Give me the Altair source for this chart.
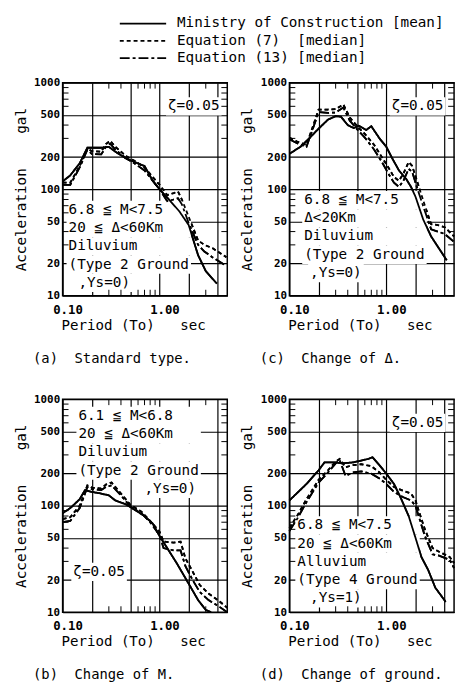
import altair as alt
import pandas as pd

SERIES = ["Ministry of Construction [mean]", "Equation (7)  [median]", "Equation (13) [median]"]
X_DOMAIN = [0.1, 5.0]
Y_DOMAIN = [10, 1000]
X_GRID = [0.1, 0.2, 0.5, 1.0, 2.0, 4.0]
Y_GRID = [10, 20, 50, 100, 200, 500, 1000]
X_MINOR = [0.3, 0.4, 0.6, 0.7, 0.8, 0.9, 3.0]
Y_MINOR = [30, 40, 60, 70, 80, 90, 300, 400, 600, 700, 800, 900]

# (a) Standard type
A_MOC_T = [0.10, 0.12, 0.15, 0.18, 0.20, 0.25, 0.30, 0.35, 0.45, 0.55, 0.70, 0.85, 1.00, 1.25, 1.60, 2.00, 2.50, 3.00, 3.90]
A_MOC_A = [118, 135, 175, 245, 245, 245, 250, 225, 195, 180, 165, 120, 100, 80, 62, 46, 24, 17, 13]
A_EQ_T = [0.10, 0.12, 0.15, 0.18, 0.20, 0.25, 0.28, 0.31, 0.35, 0.45, 0.55, 0.70, 0.85, 1.00, 1.20, 1.40, 1.55, 1.70, 2.00, 2.50, 2.90, 3.50, 4.90]
A_EQ7_A = [115, 115, 165, 240, 228, 225, 265, 285, 250, 205, 185, 160, 130, 110, 88, 92, 95, 80, 55, 33, 30, 28, 23]
A_EQ13_A = [110, 110, 160, 235, 215, 212, 250, 268, 235, 195, 175, 150, 120, 100, 77, 80, 82, 72, 48, 30, 26, 23, 19]

# (c) Change of Delta
C_MOC_T = [0.10, 0.13, 0.16, 0.20, 0.25, 0.30, 0.34, 0.40, 0.46, 0.52, 0.62, 0.70, 0.85, 1.00, 1.15, 1.35, 1.60, 1.80, 2.00, 2.40, 2.90, 4.20]
C_MOC_A = [215, 250, 300, 370, 450, 485, 480, 400, 375, 395, 360, 390, 300, 250, 195, 150, 125, 105, 85, 52, 36, 21.5]
C_EQ_T = [0.10, 0.12, 0.15, 0.18, 0.20, 0.25, 0.30, 0.36, 0.42, 0.50, 0.60, 0.75, 0.90, 1.05, 1.20, 1.35, 1.50, 1.70, 1.85, 2.10, 2.50, 2.90, 3.40, 4.00, 5.00]
C_EQ7_A = [305, 280, 260, 420, 560, 560, 565, 625, 470, 390, 330, 260, 200, 160, 130, 120, 140, 180, 165, 115, 70, 47, 46, 44, 36]
C_EQ13_A = [295, 270, 250, 400, 530, 520, 525, 585, 440, 365, 305, 235, 180, 140, 115, 105, 120, 155, 145, 100, 62, 42, 40, 38, 32]

# (b) Change of M
B_MOC_T = [0.10, 0.12, 0.15, 0.17, 0.20, 0.25, 0.30, 0.35, 0.45, 0.55, 0.70, 0.85, 1.00, 1.20, 1.50, 2.00, 2.50, 3.00, 3.40]
B_MOC_A = [85, 95, 115, 140, 135, 130, 125, 112, 103, 92, 80, 68, 52, 40, 29, 18.5, 13, 10.5, 10]
B_EQ_T = [0.10, 0.12, 0.15, 0.18, 0.20, 0.25, 0.28, 0.32, 0.40, 0.50, 0.65, 0.80, 1.00, 1.10, 1.40, 1.65, 1.85, 2.20, 2.60, 3.20, 4.00, 5.00]
B_EQ7_A = [75, 78, 100, 155, 148, 145, 158, 165, 130, 102, 88, 72, 57, 46, 45, 46, 32, 24, 18, 15, 13, 11]
B_EQ13_A = [70, 72, 95, 150, 143, 140, 150, 155, 125, 98, 85, 70, 53, 40, 38, 38, 27, 20, 15.5, 13, 11.5, 10]

# (d) Change of ground
D_MOC_T = [0.10, 0.15, 0.20, 0.23, 0.30, 0.35, 0.45, 0.55, 0.65, 0.72, 0.85, 1.00, 1.20, 1.40, 1.70, 2.00, 2.30, 2.70, 3.20, 4.10]
D_MOC_A = [112, 160, 215, 255, 255, 250, 255, 265, 275, 285, 240, 200, 160, 120, 80, 50, 33, 25, 17, 12.5]
D_EQ_T = [0.10, 0.12, 0.15, 0.20, 0.25, 0.30, 0.33, 0.38, 0.45, 0.55, 0.70, 0.85, 1.00, 1.20, 1.50, 1.80, 2.00, 2.20, 2.50, 3.00, 3.50, 4.50, 5.00]
D_EQ7_A = [62, 80, 115, 175, 215, 260, 275, 230, 240, 245, 235, 205, 175, 150, 138, 130, 112, 85, 60, 40, 37, 33, 29]
D_EQ13_A = [58, 75, 108, 165, 205, 250, 268, 190, 205, 210, 200, 180, 160, 135, 120, 112, 100, 75, 52, 35, 34, 31, 26]

NB = "\u00a0"
A_TEXT = ["6.8" + NB + "≦" + NB + "M<7.5", "20" + NB + "≦" + NB + "Δ<60Km", "Diluvium", "(Type 2 Ground", ",Ys=0)"]
C_TEXT = ["6.8" + NB + "≦" + NB + "M<7.5", "Δ<20Km", "Diluvium", "(Type 2 Ground", ",Ys=0)"]
B_TEXT = ["6.1" + NB + "≦" + NB + "M<6.8", "20" + NB + "≦" + NB + "Δ<60Km", "Diluvium", "(Type 2 Ground", ",Ys=0)"]
D_TEXT = ["6.8" + NB + "≦" + NB + "M<7.5", "20" + NB + "≦" + NB + "Δ<60Km", "Alluvium", "(Type 4 Ground", ",Ys=1)"]
ZETA = "ζ=0.05"
CAPTIONS = ["(a)" + NB * 2 + "Standard type.", "(c)" + NB * 2 + "Change of Δ.",
            "(b)" + NB * 2 + "Change of M.", "(d)" + NB * 2 + "Change of ground."]

FONT = "DejaVu Sans Mono"
FS = 14.5
CW = 0.602 * FS
LH = 18.5
W, H = 167, 216
DUMMY = pd.DataFrame({"k": [0]})

dash_scale = alt.Scale(domain=SERIES, range=[[1, 0], [4, 3], [10, 3, 3, 3]])
xscale = alt.Scale(type="log", domain=X_DOMAIN, nice=False)
yscale = alt.Scale(type="log", domain=Y_DOMAIN, nice=False)

xaxis = alt.Axis(values=X_GRID,
                 labelExpr="datum.value == 0.1 || datum.value == 1 ? format(datum.value, '.2f') : ''",
                 grid=True, gridColor="black", gridWidth=1.2, gridOpacity=1,
                 ticks=False, domain=False, labelOverlap=False, labelFlush=False,
                 labelFont=FONT, labelFontWeight="bold", labelFontSize=12.5, labelColor="black",
                 labelPadding=8, labelOffset=5,
                 title="Period (To)" + NB * 3 + "sec", titleFont=FONT, titleFontSize=14.3,
                 titleFontWeight="normal", titleColor="black", titleX=71.5, titleY=30,
                 titleBaseline="middle", titleAlign="center")
yaxis = alt.Axis(values=Y_GRID, format="d",
                 grid=True, gridColor="black", gridWidth=1.2, gridOpacity=1,
                 ticks=False, domain=False, labelOverlap=False, labelFlush=False,
                 labelFont=FONT, labelFontWeight="bold", labelFontSize=11, labelColor="black",
                 labelPadding=3,
                 title="Acceleration" + NB * 4 + "gal", titleFont=FONT, titleFontSize=14.5,
                 titleFontWeight="normal", titleColor="black", titleX=-42, titleY=108,
                 titleAngle=270, titleBaseline="middle", titleAlign="center")


def curves_df(tm, am, te, a7, a13):
    rows = []
    for s, ts, vs in zip(SERIES, [tm, te, te], [am, a7, a13]):
        for i, (t, v) in enumerate(zip(ts, vs)):
            rows.append({"series": s, "T": t, "A": v, "order": i})
    return pd.DataFrame(rows)


def box(x0, w, y):
    return alt.Chart(DUMMY).mark_rect(color="white").encode(
        x=alt.value(x0 - 2), x2=alt.value(x0 + w + 2),
        y=alt.value(y - LH / 2), y2=alt.value(y + LH / 2))


def label(text, x, y, align="left", size=FS):
    return alt.Chart(DUMMY).mark_text(
        align=align, baseline="middle", font=FONT, fontSize=size, color="black"
    ).encode(x=alt.value(x), y=alt.value(y), text=alt.value(text))


def curve_layer(df):
    return alt.Chart(df).mark_line(color="black", strokeWidth=1.8).encode(
        x=alt.X("T:Q", scale=xscale, axis=xaxis),
        y=alt.Y("A:Q", scale=yscale, axis=yaxis),
        strokeDash=alt.StrokeDash("series:N", scale=dash_scale, legend=None),
        order=alt.Order("order:Q"),
    )


def panel(tm, am, te, a7, a13, lines, tx, ty, last_x, zx, zy, caption, legend=False):
    df = curves_df(tm, am, te, a7, a13)
    ymin = pd.DataFrame({"A": Y_MINOR})
    xmin = pd.DataFrame({"T": X_MINOR})
    tick_l = alt.Chart(ymin).mark_rule(color="black", strokeWidth=1).encode(
        y=alt.Y("A:Q", scale=yscale, axis=yaxis), x=alt.value(0), x2=alt.value(6))
    tick_r = alt.Chart(ymin).mark_rule(color="black", strokeWidth=1).encode(
        y=alt.Y("A:Q", scale=yscale, axis=yaxis), x=alt.value(W - 6), x2=alt.value(W))
    tick_t = alt.Chart(xmin).mark_rule(color="black", strokeWidth=1).encode(
        x=alt.X("T:Q", scale=xscale, axis=xaxis), y=alt.value(0), y2=alt.value(6))
    tick_b = alt.Chart(xmin).mark_rule(color="black", strokeWidth=1).encode(
        x=alt.X("T:Q", scale=xscale, axis=xaxis), y=alt.value(H - 6), y2=alt.value(H))
    block_w = max(len(s) for s in lines[:-1]) * CW
    boxes, texts = [], []
    for i, line in enumerate(lines):
        yy = ty + LH * i
        if i == len(lines) - 1:
            boxes.append(box(last_x, len(line) * CW, yy))
            texts.append(label(line, last_x, yy))
        else:
            boxes.append(box(tx, block_w, yy))
            texts.append(label(line, tx, yy))
    zw = len(ZETA) * CW
    boxes.append(box(zx - zw / 2, zw, zy))
    texts.append(label(ZETA, zx, zy, align="center"))
    layers = [curve_layer(df)] + boxes + [tick_l, tick_r, tick_t, tick_b] + texts
    layers.append(curve_layer(df))
    layers.append(label(caption, -30, 280, size=14))
    if legend:
        dashes = [[1, 0], [4, 3], [10, 3, 3, 3]]
        for i, (name, d) in enumerate(zip(SERIES, dashes)):
            yy = -60 + 17.5 * i
            layers.append(alt.Chart(DUMMY).mark_rule(color="black", strokeWidth=1.8, strokeDash=d).encode(
                x=alt.value(58), x2=alt.value(105), y=alt.value(yy)))
            layers.append(label(name.replace(" ", NB), 116, yy))
    return alt.layer(*layers).properties(width=W, height=H)


pa = panel(A_MOC_T, A_MOC_A, A_EQ_T, A_EQ7_A, A_EQ13_A, A_TEXT, 6, 129, 16, 133, 24, CAPTIONS[0], legend=True)
pc = panel(C_MOC_T, C_MOC_A, C_EQ_T, C_EQ7_A, C_EQ13_A, C_TEXT, 15, 119, 21, 130, 24, CAPTIONS[1])
pb = panel(B_MOC_T, B_MOC_A, B_EQ_T, B_EQ7_A, B_EQ13_A, B_TEXT, 16, 17, 83, 37, 175, CAPTIONS[2])
pd_ = panel(D_MOC_T, D_MOC_A, D_EQ_T, D_EQ7_A, D_EQ13_A, D_TEXT, 8, 128, 21, 130, 24, CAPTIONS[3])

chart = alt.concat(pa, pc, pb, pd_, columns=2, spacing={"row": 105, "column": 63}, bounds="flush").properties(
    padding={"left": 12.5, "top": 10, "right": 0, "bottom": 0},
    background="white",
).configure_view(stroke="black", strokeWidth=1.5)

chart.save("out.html", embed_options={"renderer": "svg", "actions": False})
